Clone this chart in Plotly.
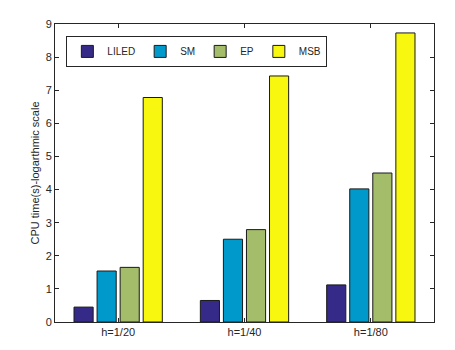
import plotly.graph_objects as go

# ============================================================
# DATA
# ============================================================

CATEGORIES = ["h=1/20", "h=1/40", "h=1/80"]

LILED = [0.45, 0.65, 1.12]
SM = [1.54, 2.50, 4.02]
EP = [1.65, 2.79, 4.50]
MSB = [6.78, 7.43, 8.73]

SERIES = {
    "LILED": (LILED, "#352a87"),
    "SM": (SM, "#0099cc"),
    "EP": (EP, "#a3bd6a"),
    "MSB": (MSB, "#f7f70f"),
}

Y_TICKS = list(range(0, 10))


# ============================================================
# PLOT
# ============================================================

fig = go.Figure()

for name, (values, color) in SERIES.items():
    fig.add_trace(go.Bar(
        x=CATEGORIES,
        y=values,
        name=name,
        marker=dict(color=color, line=dict(color="#1a1a1a", width=1)),
    ))

axis_style = dict(
    showline=True,
    linecolor="#262626",
    linewidth=1,
    mirror="ticks",
    ticks="inside",
    ticklen=4,
    tickcolor="#262626",
    showgrid=False,
    zeroline=False,
    automargin=False,
    tickfont=dict(family="Liberation Sans, Arial", size=11, color="#262626"),
)

# the page body keeps its default 8px margin, so the figure is a bit smaller
fig.update_layout(
    width=439,
    height=334,
    margin=dict(l=47, r=13, t=16, b=20),
    paper_bgcolor="white",
    plot_bgcolor="white",
    barmode="group",
    bargap=0.27,
    bargroupgap=0.17,
    font=dict(family="Liberation Sans, Arial", size=11, color="#262626"),
    legend=dict(
        orientation="h",
        x=0.03,
        y=0.96,
        xanchor="left",
        yanchor="top",
        bgcolor="white",
        bordercolor="#262626",
        borderwidth=1,
        font=dict(size=10),
        itemwidth=30,
        tracegroupgap=0,
    ),
    xaxis=dict(axis_style),
    yaxis=dict(
        axis_style,
        range=[0, 9],
        tickvals=Y_TICKS,
        title=dict(text="CPU time(s)-logarthmic scale", standoff=3,
                   font=dict(size=11)),
    ),
)

fig.write_html("out.html")
